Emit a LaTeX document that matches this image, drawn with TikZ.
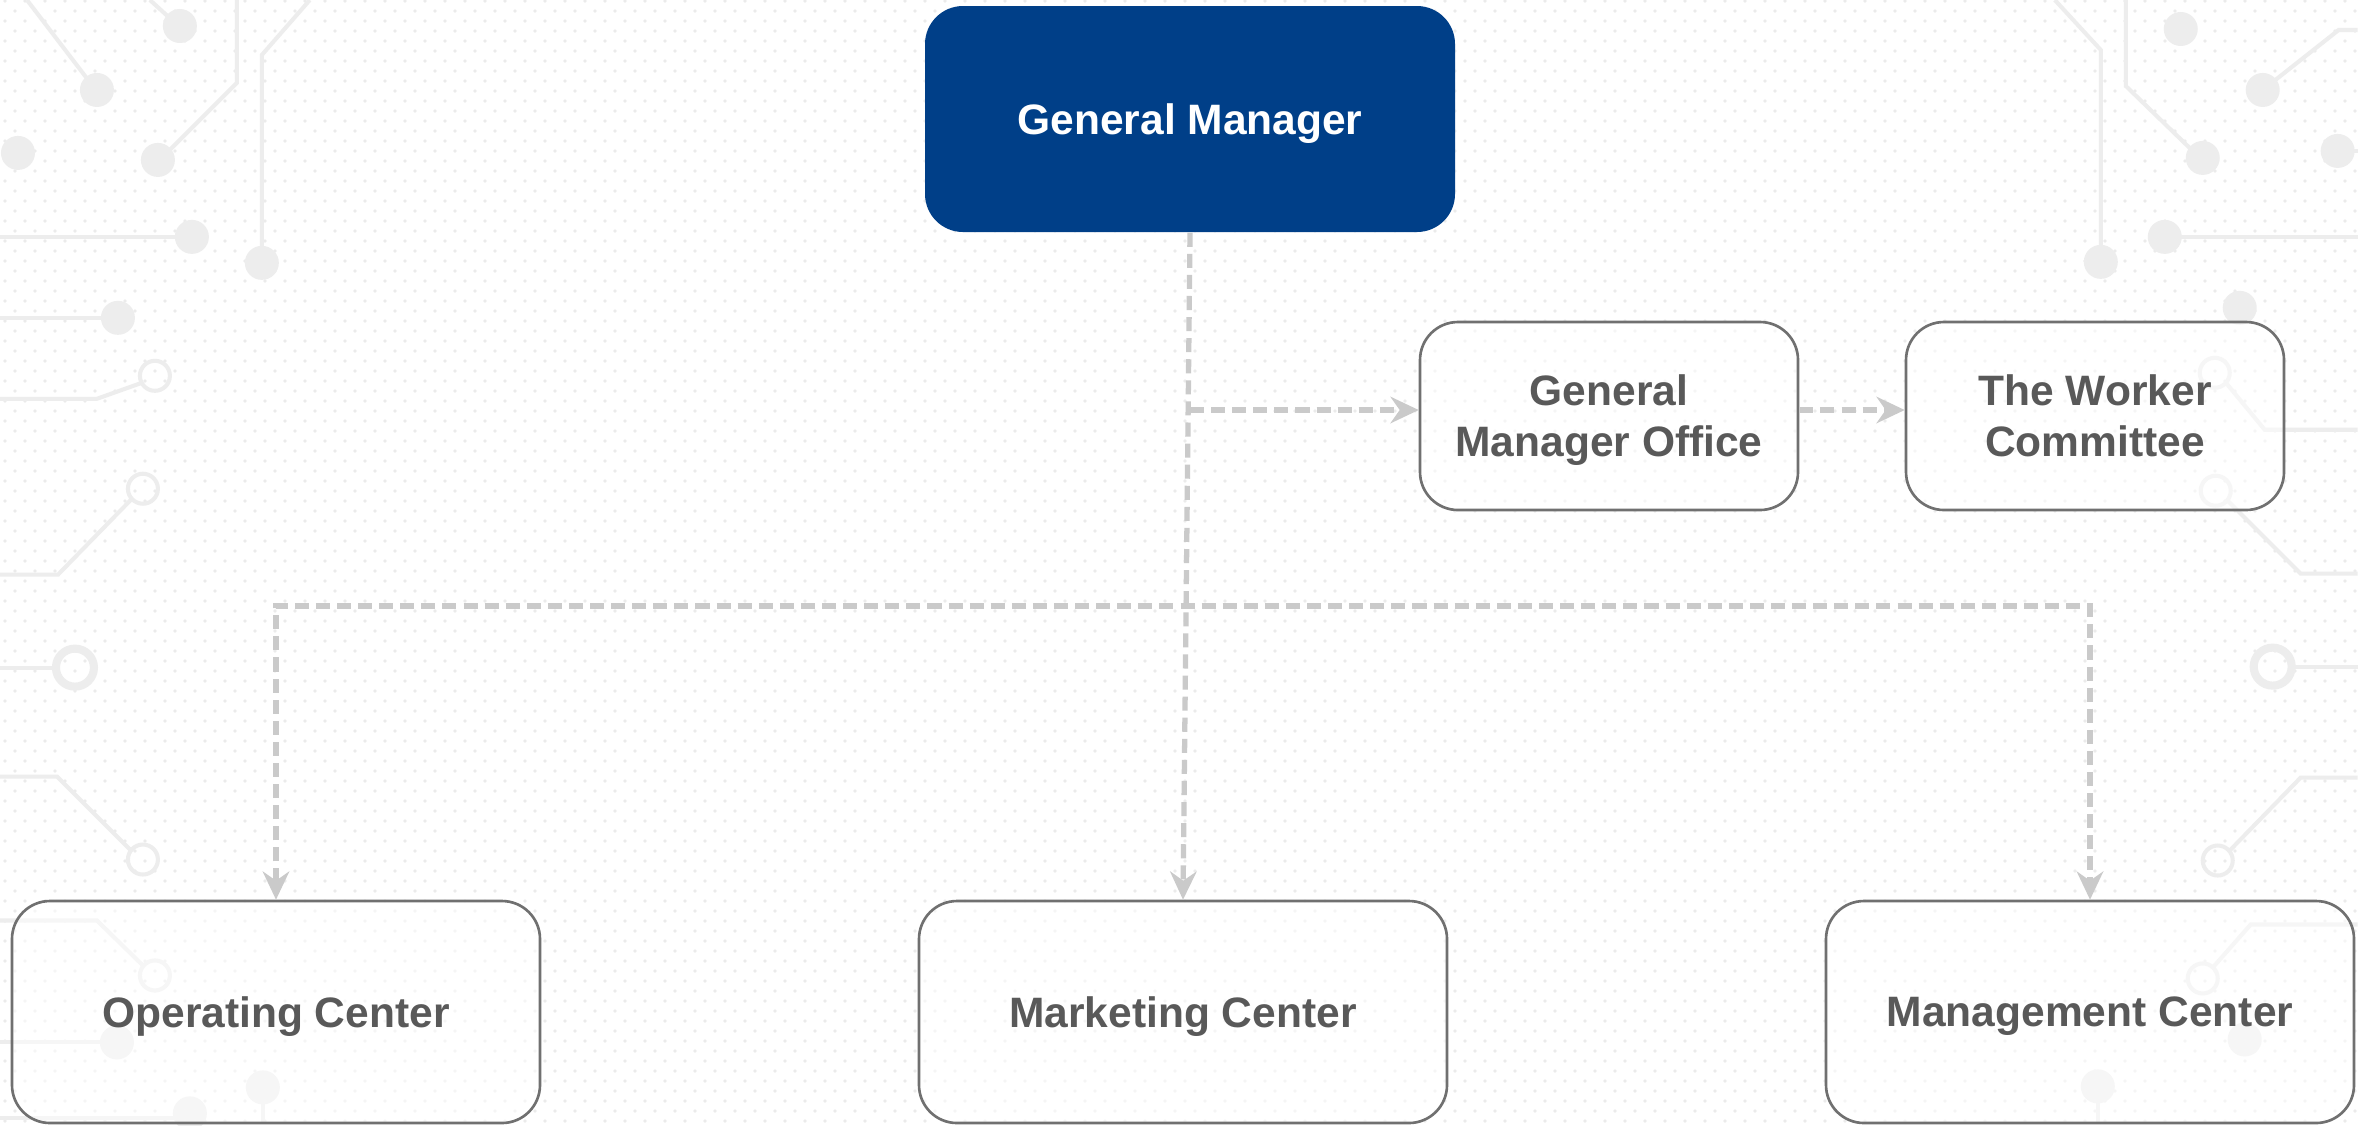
\documentclass[tikz,border=0pt]{standalone}
\usepackage{fontspec}
\setmainfont{Liberation Sans}
\usepackage{xcolor}
\usetikzlibrary{positioning, arrows.meta, patterns}

\definecolor{gmblue}{HTML}{003F88}
\definecolor{boxline}{HTML}{707070}
\definecolor{boxtext}{HTML}{595959}
\definecolor{linkgray}{HTML}{CACACA}
\definecolor{tracegray}{HTML}{EDEDED}

\pgfdeclarepatternformonly{bgdots}{\pgfpointorigin}{\pgfqpoint{5.69pt}{5.69pt}}{\pgfqpoint{5.69pt}{5.69pt}}{
    \pgfpathcircle{\pgfqpoint{1.42pt}{1.42pt}}{0.55pt}
    \pgfpathcircle{\pgfqpoint{4.27pt}{4.27pt}}{0.55pt}
    \pgfusepath{fill}
}

\tikzset{
    >={Stealth[length=8pt, width=7.5pt]}, % punte delle frecce
    unit/.style={rounded corners=0.38cm, align=center, text depth=0pt, font=\fontsize{12.1}{14.5}\selectfont\bfseries},
    head/.style={unit, fill=gmblue, text=white, minimum width=5.3cm, minimum height=2.26cm},
    office/.style={unit, draw=boxline, line width=0.75pt, fill=white, fill opacity=0.5, text opacity=1, text=boxtext, minimum width=3.78cm, minimum height=1.88cm},
    dept/.style={office, minimum width=5.28cm, minimum height=2.22cm},
    link/.style={draw=linkgray, line width=1.5pt, dash pattern=on 4pt off 2pt, ->},
    trace/.style={draw=tracegray, line width=1.15pt},
    pad/.style={fill=tracegray},
    ring/.style={draw=tracegray, line width=1.15pt},
}

\begin{document}
\begin{tikzpicture}[on grid, auto]
    % Sfondo
    \fill[white] (0,0) rectangle (23.59,-11.25);
    \fill[pattern=bgdots, pattern color=gray!16] (0,0) rectangle (23.59,-11.25);
    \useasboundingbox (0,0) rectangle (23.59,-11.25);

    \begin{scope}[x=0.01cm, y=-0.01cm]
        % sinistra
        \draw[trace] (27,0) -- (92,85);
        \fill[pad] (97,90) circle (0.17cm);
        \draw[trace] (150,0) -- (172,20);
        \fill[pad] (180,26) circle (0.17cm);
        \fill[pad] (18,153) circle (0.17cm);
        \draw[trace] (237,0) -- (237,83) -- (165,155);
        \fill[pad] (158,160) circle (0.17cm);
        \draw[trace] (310,0) -- (262,55) -- (262,255);
        \fill[pad] (262,263) circle (0.17cm);
        \draw[trace] (0,237) -- (180,237);
        \fill[pad] (192,237) circle (0.17cm);
        \draw[trace] (0,318) -- (105,318);
        \fill[pad] (118,318) circle (0.17cm);
        \draw[trace] (0,399) -- (97,399) -- (142,383);
        \draw[ring] (155,376) circle (0.15cm);
        \draw[trace] (0,575) -- (58,575) -- (133,498);
        \draw[ring] (143,489) circle (0.15cm);
        \draw[trace] (0,668) -- (55,668);
        \draw[ring, line width=2.3pt] (75,668) circle (0.19cm);
        \draw[trace] (0,777) -- (57,777) -- (132,852);
        \draw[ring] (143,860) circle (0.15cm);
        \draw[trace] (0,921) -- (97,921) -- (143,966);
        \draw[ring] (155,976) circle (0.15cm);
        \draw[trace] (0,1043) -- (100,1043);
        \fill[pad] (117,1043) circle (0.17cm);
        \draw[trace] (263,1088) -- (263,1125);
        \fill[pad] (263,1088) circle (0.17cm);
        \draw[trace] (0,1119) -- (175,1119);
        \fill[pad] (190,1114) circle (0.17cm);
        % destra
        \draw[trace] (2056,0) -- (2102,50) -- (2102,250);
        \fill[pad] (2102,262) circle (0.17cm);
        \fill[pad] (2182,29) circle (0.17cm);
        \draw[trace] (2127,0) -- (2127,86) -- (2195,152);
        \fill[pad] (2204,158) circle (0.17cm);
        \draw[trace] (2264,90) -- (2340,30) -- (2359,30);
        \fill[pad] (2264,90) circle (0.17cm);
        \draw[trace] (2339,151) -- (2359,151);
        \fill[pad] (2339,151) circle (0.17cm);
        \draw[trace] (2180,237) -- (2359,237);
        \fill[pad] (2166,237) circle (0.17cm);
        \fill[pad] (2241,308) circle (0.17cm);
        \draw[trace] (2228,384) -- (2266,430) -- (2359,430);
        \draw[ring] (2216,373) circle (0.15cm);
        \draw[trace] (2229,501) -- (2302,574) -- (2359,574);
        \draw[ring] (2217,491) circle (0.15cm);
        \draw[trace] (2296,667) -- (2359,667);
        \draw[ring, line width=2.3pt] (2274,667) circle (0.19cm);
        \draw[trace] (2231,851) -- (2302,778) -- (2359,778);
        \draw[ring] (2219,861) circle (0.15cm);
        \draw[trace] (2215,967) -- (2252,925) -- (2359,925);
        \draw[ring] (2204,979) circle (0.15cm);
        \fill[pad] (2246,1040) circle (0.17cm);
        \draw[trace] (2099,1087) -- (2099,1125);
        \fill[pad] (2099,1087) circle (0.17cm);
    \end{scope}

    % Nodi
    \node[head] (gm) at (11.90,-1.19) {General Manager};
    \node[office] (gmo) [below right=2.97cm and 4.19cm of gm] {General\\Manager Office};
    \node[office] (wc) [right=4.86cm of gmo] {The Worker\\Committee};
    \node[dept] (mk) [below=8.93cm of gm, xshift=-0.07cm] {Marketing Center};
    \node[dept] (op) [left=9.07cm of mk] {Operating Center};
    \node[dept] (mc) [right=9.07cm of mk] {Management Center};
    \coordinate[below=4.87cm of gm] (bus);

    % Collegamenti
    \draw[link] (gm.south) -- (mk.north);
    \draw[link] ([yshift=0.06cm]gmo.west -| gm.south) -- ([yshift=0.06cm]gmo.west);
    \draw[link] ([yshift=0.06cm]gmo.east) -- ([yshift=0.06cm]wc.west);
    \draw[link, <->] (op.north) |- (bus -| mc.north) -- (mc.north);
\end{tikzpicture}
\end{document}
